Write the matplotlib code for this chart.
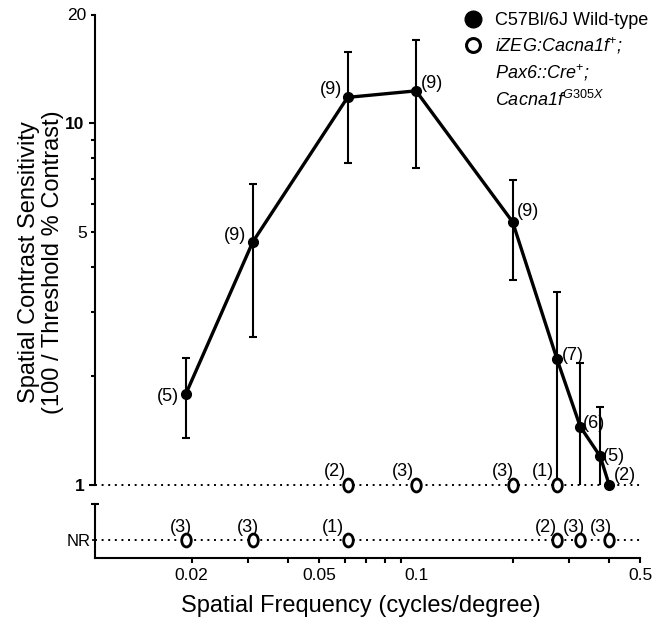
import numpy as np
import matplotlib
matplotlib.use('Agg')
import matplotlib.pyplot as plt
from matplotlib.path import Path
from matplotlib.transforms import Affine2D
from matplotlib.lines import Line2D

plt.rcParams['font.family'] = ['Liberation Sans', 'DejaVu Sans']
plt.rcParams['mathtext.fontset'] = 'custom'
plt.rcParams['mathtext.rm'] = 'Liberation Sans'
plt.rcParams['mathtext.it'] = 'Liberation Sans:italic'
plt.rcParams['mathtext.bf'] = 'Liberation Sans:bold'

# ---------------- data ----------------
wt_freq = [0.0192, 0.031, 0.0612, 0.1, 0.2, 0.275, 0.325, 0.375, 0.4]
wt_sens = [1.79, 4.70, 11.8, 12.3, 5.34, 2.23, 1.45, 1.20, 1.0]
wt_err_hi = [2.24, 6.78, 15.8, 17.0, 6.96, 3.42, 2.18, 1.64, 1.0]
wt_err_lo = [1.35, 2.57, 7.77, 7.52, 3.70, 0.9, 0.9, 0.9, 1.0]
wt_n = [5, 9, 9, 9, 9, 7, 6, 5, 2]

mut_freq_1 = [0.0612, 0.1, 0.2, 0.275]
mut_sens_1 = [1, 1, 1, 1]
mut_n_1 = [2, 3, 3, 1]

mut_freq_nr = [0.0192, 0.031, 0.0612, 0.275, 0.325, 0.4]
mut_n_nr = [3, 3, 1, 2, 3, 3]

x_ticks = [0.02, 0.03, 0.04, 0.05, 0.06, 0.07, 0.08, 0.09, 0.1, 0.2, 0.3, 0.4, 0.5]
x_labels = ['0.02', '', '', '0.05', '', '', '', '', '0.1', '', '', '', '0.5']
y_major = [1, 10]
y_minor = [2, 3, 4, 5, 6, 7, 8, 9, 20]
y_minor_labels = ['', '', '', '5', '', '', '', '', '20']

legend_labels = ['C57Bl/6J Wild-type', 'iZEG:Cacna1f$^{+}$;', 'Pax6::Cre$^{+}$;',
                 'Cacna1f$^{\\mathit{G305X}}$']

# label placement (pixels): (ha, dx, dy)
wt_lab = [('right', -7, -3), ('right', -7, 6), ('right', -5, 8), ('left', 5, 7),
          ('left', 4, 10), ('left', 5, 4), ('left', 3, 3), ('left', 3, 0), ('left', 5, 9)]
mut1_dx = [-13, -13.5, -10, -13.7]
nr_dx = [-5.5, -5, -15, -11.5, -6.5, -8.5]

W, H = 665, 626
fig = plt.figure(figsize=(W / 100, H / 100), dpi=100)

def fx(px):
    return px / W

def fy(py):
    return 1 - py / H

xl, xr = 95.1, 640.3
ax = fig.add_axes([fx(xl), fy(485), fx(xr) - fx(xl), fy(14.5) - fy(485)])
ax2 = fig.add_axes([fx(xl), fy(557.5), fx(xr) - fx(xl), fy(504) - fy(557.5)])

ell = Path.unit_circle().transformed(Affine2D().scale(0.74, 1.0))
dots = (0, (1, 2.4))
OMS, OMEW = 9.3, 2.0

for a in (ax, ax2):
    a.set_xscale('log')
    a.set_xlim(0.01, 0.5)
    for s in ('top', 'right'):
        a.spines[s].set_visible(False)
    a.spines['left'].set_linewidth(1.5)
    a.spines['bottom'].set_linewidth(1.5)

# ---- main axes ----
ax.set_yscale('log')
ax.set_ylim(1, 20)
ax.spines['bottom'].set_visible(False)
ax.tick_params(axis='x', which='both', bottom=False, labelbottom=False)
ax.set_yticks(y_major, labels=[str(v) for v in y_major], fontsize=12.5, fontweight='bold')
ax.set_yticks(y_minor, labels=y_minor_labels, minor=True, fontsize=12.5)
ax.tick_params(axis='y', which='major', length=4.5, width=1.5, pad=3)
ax.tick_params(axis='y', which='minor', length=3, width=1.5, pad=3)

ax.axhline(1, ls=dots, lw=1.4, color='k', zorder=1, clip_on=False)

wf = np.array(wt_freq)
ws = np.array(wt_sens)
hi = np.array(wt_err_hi)
lo = np.array(wt_err_lo)
m = hi > lo
ax.errorbar(wf[m], ws[m], yerr=[ws[m] - lo[m], hi[m] - ws[m]], fmt='none',
            ecolor='k', elinewidth=1.5, capsize=3.2, capthick=1.5, zorder=2)
ax.plot(wf, ws, '-', color='k', lw=2.4, clip_on=False, zorder=3)
ax.plot(wf, ws, 'o', color='k', ms=7, clip_on=False, zorder=4)
ax.plot(mut_freq_1, mut_sens_1, ls='none', marker=ell, ms=OMS, mfc='white', mec='k',
        mew=OMEW, clip_on=False, zorder=5)

for f, s, n, (ha, dx, dy) in zip(wt_freq, wt_sens, wt_n, wt_lab):
    ax.annotate(f'({n})', (f, s), xytext=(dx, dy), textcoords='offset pixels',
                ha=ha, va='center', fontsize=13, annotation_clip=False)
for f, s, n, dx in zip(mut_freq_1, mut_sens_1, mut_n_1, mut1_dx):
    ax.annotate(f'({n})', (f, s), xytext=(dx, 14), textcoords='offset pixels',
                ha='center', va='center', fontsize=13, annotation_clip=False)

# ---- lower (NR) axes ----
ax2.set_ylim(-1, 2.06)
ax2.set_yticks([0], labels=['NR'], fontsize=12)
ax2.tick_params(axis='y', length=2, width=1.2, pad=1)
ax2.set_xticks(x_ticks, labels=x_labels, fontsize=12.5)
ax2.xaxis.set_minor_locator(matplotlib.ticker.NullLocator())
ax2.tick_params(axis='x', length=3.6, width=1.5, pad=4)
for t, v in zip(ax2.xaxis.get_major_ticks(), x_ticks):
    if v == 0.1:
        t.tick1line.set_visible(False)
ax2.axhline(0, ls=dots, lw=1.4, color='k', zorder=1)
ax2.plot(mut_freq_nr, [0] * len(mut_freq_nr), ls='none', marker=ell, ms=OMS,
         mfc='white', mec='k', mew=OMEW, clip_on=False, zorder=5)
for f, n, dx in zip(mut_freq_nr, mut_n_nr, nr_dx):
    ax2.annotate(f'({n})', (f, 0), xytext=(dx, 13), textcoords='offset pixels',
                 ha='center', va='center', fontsize=13, annotation_clip=False)
cap = 4 / (xr - xl)
ax2.plot([-cap, cap], [1, 1], transform=ax2.transAxes, color='k', lw=1.5,
         clip_on=False, solid_capstyle='butt')

# ---- labels ----
fig.text(fx(361), fy(606), 'Spatial Frequency (cycles/degree)', fontsize=17,
         ha='center', va='center')
fig.text(fx(29), fy(262), 'Spatial Contrast Sensitivity', fontsize=17,
         rotation=90, ha='center', va='center')
fig.text(fx(53), fy(262), '(100 / Threshold % Contrast)', fontsize=17,
         rotation=90, ha='center', va='center')

# ---- legend ----
handles = [Line2D([], [], marker='o', ms=12, color='k', ls='none'),
           Line2D([], [], marker='o', ms=10, mfc='white', mec='k', mew=2.2, ls='none'),
           Line2D([], [], ls='none'),
           Line2D([], [], ls='none')]
leg = fig.legend(handles, legend_labels, loc='upper left',
                 bbox_to_anchor=(fx(464.3), fy(12)), frameon=False, fontsize=13,
                 handlelength=1.0, handletextpad=0.7, labelspacing=0.36,
                 borderpad=0, borderaxespad=0, numpoints=1)
for t in leg.get_texts()[1:]:
    t.set_fontstyle('italic')

fig.savefig('out.png', dpi=100)
